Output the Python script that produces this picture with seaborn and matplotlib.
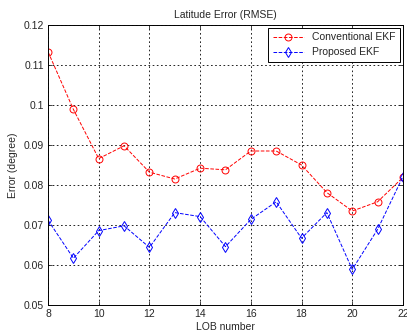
import matplotlib
matplotlib.use("Agg")
import matplotlib.pyplot as plt
import seaborn as sns
import pandas as pd

lob = [8, 9, 10, 11, 12, 13, 14, 15, 16, 17, 18, 19, 20, 21, 22]
conventional = [0.1133, 0.0989, 0.0866, 0.0898, 0.0832, 0.0815, 0.0842, 0.0838,
                0.0885, 0.0885, 0.0850, 0.0781, 0.0735, 0.0758, 0.0819]
proposed = [0.0712, 0.0617, 0.0686, 0.0698, 0.0644, 0.0731, 0.0721, 0.0646,
            0.0714, 0.0758, 0.0667, 0.0731, 0.0589, 0.0689, 0.0821]

sns.set_style("white")
plt.rcParams['font.family'] = ['Liberation Sans', 'DejaVu Sans']

fig = plt.figure(figsize=(4.07, 3.33), dpi=100)
ax = fig.add_axes([0.118, 0.084, 0.872, 0.841])

df = pd.DataFrame({"lob": lob, "conv": conventional, "prop": proposed})
sns.lineplot(data=df, x="lob", y="conv", ax=ax, color="red", linestyle="--",
             linewidth=0.7, marker="o", markersize=5, markerfacecolor="none",
             markeredgecolor="red", markeredgewidth=0.7, label="Conventional EKF")
sns.lineplot(data=df, x="lob", y="prop", ax=ax, color="blue", linestyle="--",
             linewidth=0.7, marker="d", markersize=5.5, markerfacecolor="none",
             markeredgecolor="blue", markeredgewidth=0.7, label="Proposed EKF")

ax.set_xlim(8, 22)
ax.set_ylim(0.05, 0.12)
ax.set_xticks(range(8, 23, 2))
ax.set_yticks([0.05, 0.06, 0.07, 0.08, 0.09, 0.1, 0.11, 0.12])
ax.set_yticklabels(["0.05", "0.06", "0.07", "0.08", "0.09", "0.1", "0.11", "0.12"])
ax.tick_params(labelsize=7.5, direction="in", length=3, width=0.6, pad=3,
               top=True, right=True, bottom=True, left=True)
ax.grid(True, color="black", linestyle=(0, (2, 3)), linewidth=0.6)
for s in ax.spines.values():
    s.set_color("black")
    s.set_linewidth(0.7)
ax.set_xlabel("LOB number", fontsize=7.5, labelpad=2)
ax.set_ylabel("Error (degree)", fontsize=7.5, labelpad=4)
ax.set_title("Latitude Error (RMSE)", fontsize=7.5, pad=5)

leg = ax.legend(loc="upper right", fontsize=7.5, frameon=True, fancybox=False,
                edgecolor="black", framealpha=1, borderpad=0.4, labelspacing=0.5,
                handlelength=3, borderaxespad=0.3)
leg.get_frame().set_linewidth(0.7)

fig.savefig("out.png", dpi=100)
